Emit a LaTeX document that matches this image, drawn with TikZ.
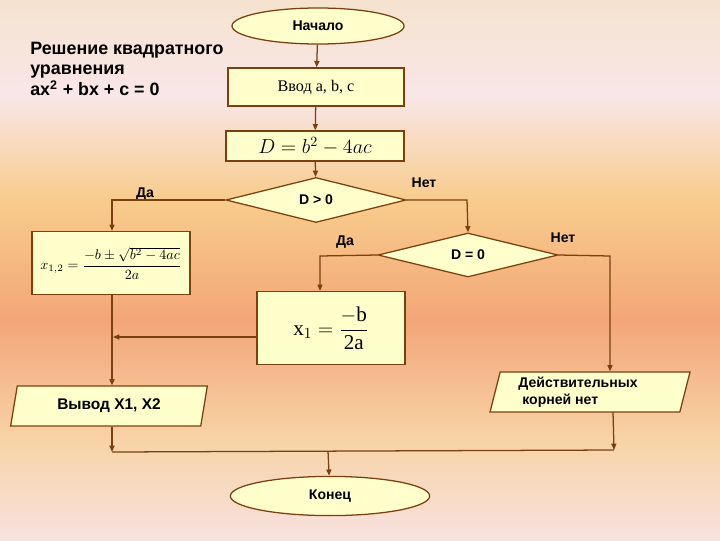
\documentclass[tikz,border=0pt]{standalone}
\usepackage{amsmath}
\usepackage{fontspec}
\setmainfont{Liberation Sans}
\newfontfamily\serifru{Liberation Serif}
\usepackage{tikz}
\usetikzlibrary{positioning, shapes.geometric, arrows.meta, calc}

\definecolor{linec}{HTML}{7A4010}
\definecolor{boxfill}{HTML}{FFFFCC}
\definecolor{bgA}{HTML}{F5E3CF}
\definecolor{bgB}{HTML}{F9E6E8}
\definecolor{bgC}{HTML}{F8CC8C}
\definecolor{bgD}{HTML}{F3A678}
\definecolor{bgE}{HTML}{F7D3A6}
\definecolor{bgF}{HTML}{F8E2E0}

\newcommand\sr[1]{\text{\serifru #1}}

\tikzset{
  blk/.style={draw=linec, fill=boxfill, line width=0.9pt, inner sep=0pt},
  term/.style={blk, ellipse},
  proc/.style={blk, rectangle},
  cond/.style={blk, diamond, aspect=4},
  io/.style={blk, trapezium, trapezium left angle=75, trapezium right angle=105, trapezium stretches=true},
  lbl/.style={font=\fontsize{10}{12}\selectfont\bfseries},
  flow/.style={draw=linec, line width=0.9pt},
  arr/.style={flow, -{Triangle[length=4.5pt, width=3.6pt]}}
}

\begin{document}
\begin{tikzpicture}[x=0.025cm, y=-0.025cm]
      % background
      \useasboundingbox (0,0) rectangle (720,540);
      \fill[top color=bgA, bottom color=bgB] (0,0) rectangle (720,95);
      \fill[top color=bgB, bottom color=bgC] (0,95) rectangle (720,200);
      \fill[top color=bgC, bottom color=bgD] (0,200) rectangle (720,320);
      \fill[top color=bgD, bottom color=bgE] (0,320) rectangle (720,440);
      \fill[top color=bgE, bottom color=bgF] (0,440) rectangle (720,540);

      \node[anchor=north west, inner sep=0pt, align=left, font=\fontsize{12.7}{14.5}\selectfont\bfseries] (title) at (30,42)
        {Решение квадратного\\уравнения\\ax\textsuperscript{2} + bx + c = 0};

      % blocks
      \node[term, minimum width=4.3cm, minimum height=0.9cm, lbl] (start) at (318,26) {Начало};
      \node[proc, minimum width=4.4cm, minimum height=0.95cm, font=\serifru\fontsize{11.5}{13}\selectfont] (inp) at (316,87) {Ввод a, b, c};
      \node[proc, minimum width=4.45cm, minimum height=0.75cm, font=\fontsize{14}{16}\selectfont] (disc) at (315,146) {$D = b^2 - 4ac$};
      \node[cond, minimum width=4.5cm, minimum height=1.125cm, lbl] (dpos) at (316,200) {D > 0};
      \node[proc, minimum width=3.95cm, minimum height=1.575cm, font=\fontsize{10}{12}\selectfont] (two) at (111,263)
        {$x_{1,2} = \dfrac{-b \pm \sqrt{b^2 - 4ac}}{2a}$};
      \node[cond, minimum width=4.5cm, minimum height=1.1cm, lbl] (dzero) at (468,255) {D = 0};
      \node[proc, minimum width=3.7cm, minimum height=1.825cm, font=\fontsize{15}{17}\selectfont] (one) at (331,328)
        {$\sr{x}_1 = \dfrac{-\sr{b}}{\sr{2a}}$};
      \node[io, minimum width=4.95cm, minimum height=1cm, font=\fontsize{11}{13}\selectfont\bfseries] (out) at (109,406) {Вывод X1, X2};
      \node[io, minimum width=5cm, minimum height=1cm, lbl, align=left] (noroot) at (590,392) {Действительных\hspace*{17pt}\\\ корней нет};
      \node[term, minimum width=4.98cm, minimum height=0.98cm, lbl] (stop) at (330,496) {Конец};

      % branch labels
      \node[lbl] (yes1) at (145,194) {Да};
      \node[lbl] (no1) at (424,183) {Нет};
      \node[lbl] (yes2) at (345,242) {Да};
      \node[lbl] (no2) at (563,238) {Нет};

      % bend points
      \coordinate (c1) at (112,200);
      \coordinate (c2) at (467,200);
      \coordinate (c3) at (320,256);
      \coordinate (c4) at (610,256);
      \coordinate (j1) at (112,452);
      \coordinate (j2) at (614,450);
      \coordinate (j3) at (328,451);

      % connectors
      \draw[arr] (start) -- (inp);
      \draw[arr] (inp) -- (disc);
      \draw[arr] (disc) -- (dpos);
      \draw[arr] (dpos.west) -- (c1) -- (c1 |- two.north);
      \draw[arr] (dpos.east) -- (c2) -- (dzero.north);
      \draw[arr] (dzero.west) -- (c3) -- (c3 |- one.north);
      \draw[arr] (dzero.east) -- (c4) -- (c4 |- noroot.north);
      \draw[arr] (c1 |- two.south) -- (c1 |- out.north);
      \draw[arr] (one.west |- 0,337) -- (113,337);
      \draw[arr] (c1 |- out.south) -- (j1);
      \draw[arr] (613,412) -- (j2);
      \draw[flow] (j1) -- (j2);
      \draw[arr] (j3) -- (stop);
    \end{tikzpicture}
\end{document}
